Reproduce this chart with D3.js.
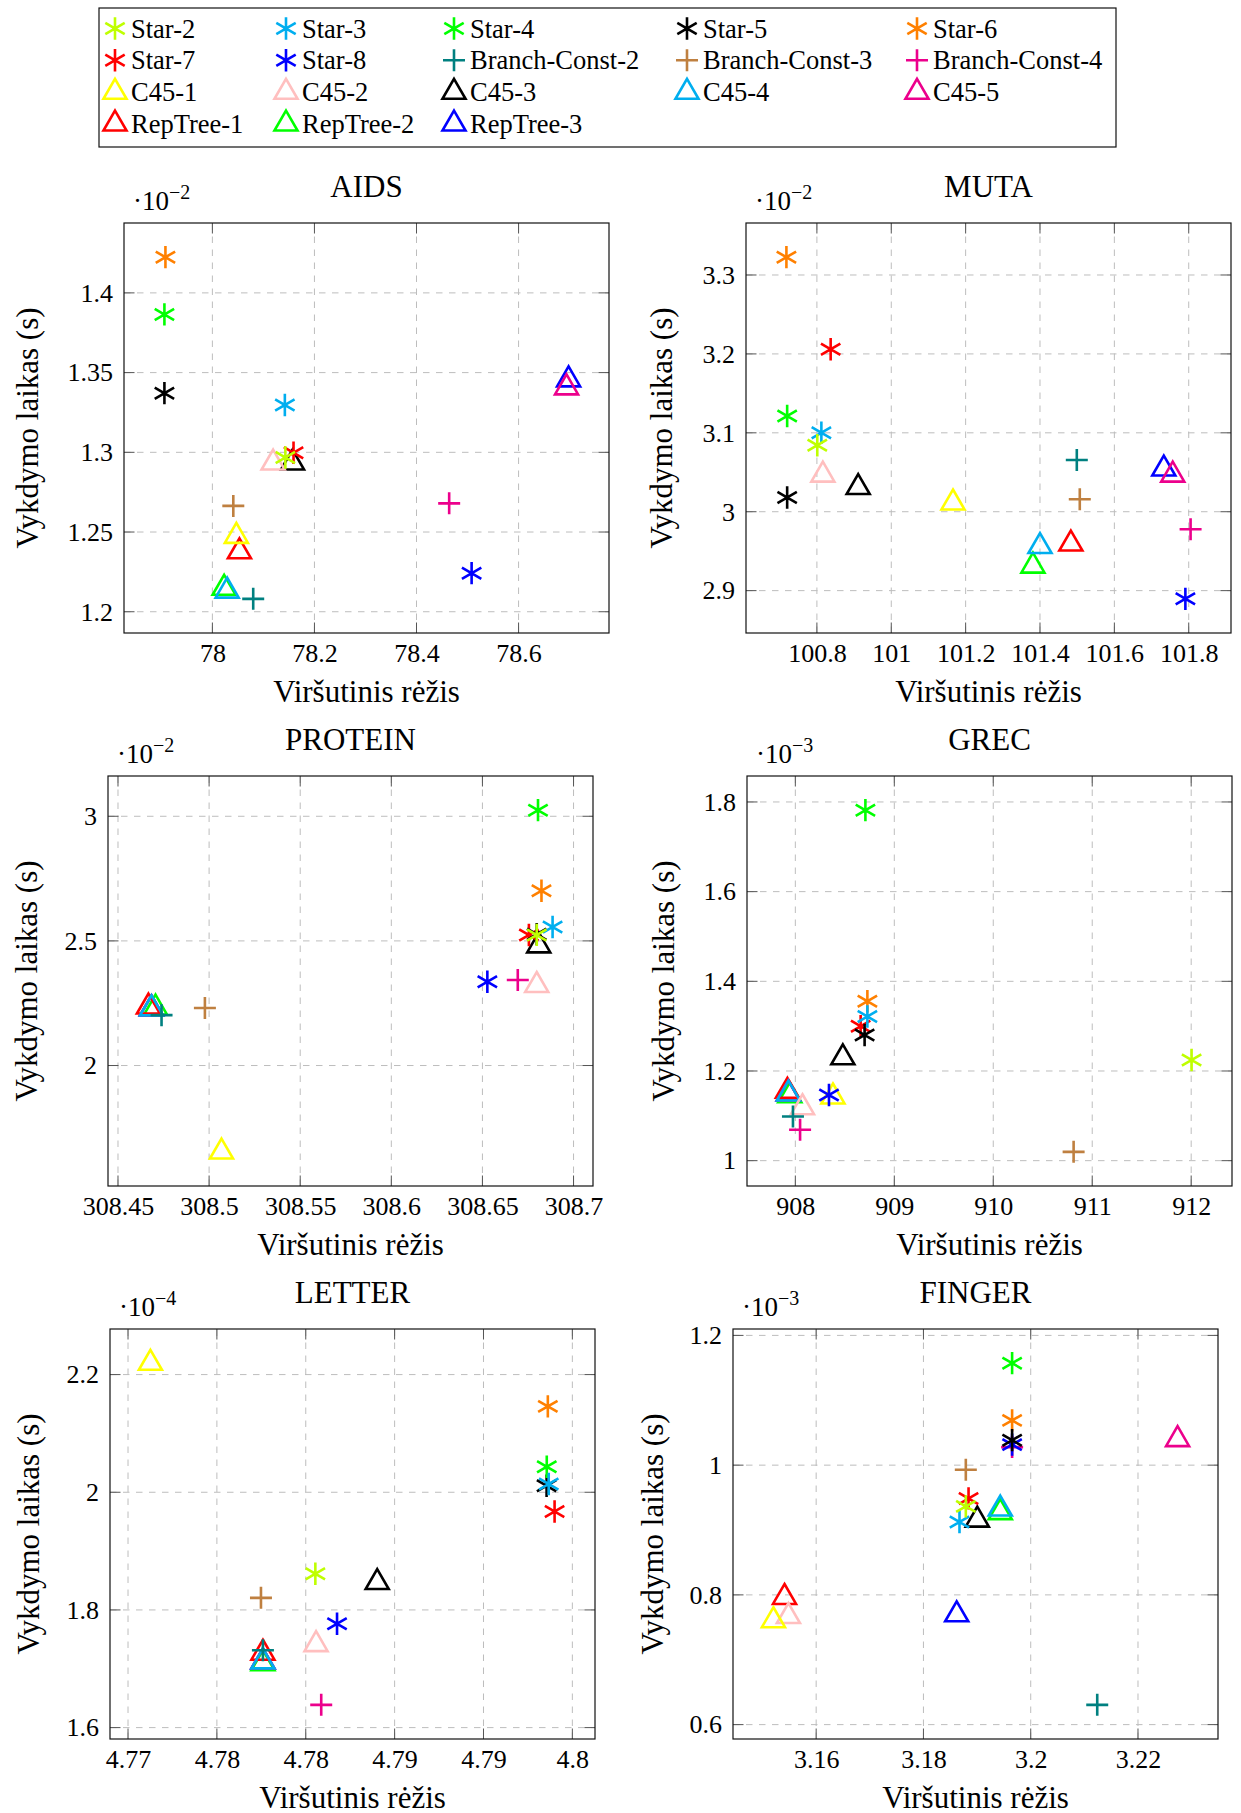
<!DOCTYPE html>
<html>
<head>
<meta charset="utf-8">
<script src="https://cdn.jsdelivr.net/npm/d3@7"></script>
<style>
  body { margin: 0; background: #fff; }
  svg { display: block; font-family: 'Liberation Serif', 'Times New Roman', serif; }
</style>
</head>
<body>
<svg width="1241" height="1813"></svg>
<script>
// series, in legend order
var seriesNames = ['Star-2', 'Star-3', 'Star-4', 'Star-5', 'Star-6', 'Star-7', 'Star-8',
    'Branch-Const-2', 'Branch-Const-3', 'Branch-Const-4',
    'C45-1', 'C45-2', 'C45-3', 'C45-4', 'C45-5',
    'RepTree-1', 'RepTree-2', 'RepTree-3'];
var seriesColors = ['#bfff00', '#00aeef', '#00ff00', '#000000', '#ff8000', '#ff0000', '#0000ff',
    '#008080', '#bf8040', '#ec008c',
    '#ffff00', '#ffbfbf', '#000000', '#00aeef', '#ec008c',
    '#ff0000', '#00ff00', '#0000ff'];
var seriesMarks = ['star', 'star', 'star', 'star', 'star', 'star', 'star',
    'plus', 'plus', 'plus',
    'tri', 'tri', 'tri', 'tri', 'tri',
    'tri', 'tri', 'tri'];

// upper bound (x) and run time (y, in units of 10^exp s) per dataset
var aidsX = [78.143, 78.142, 77.906, 77.906, 77.908, 78.159, 78.508, 78.080, 78.041, 78.464,
    78.047, 78.119, 78.157, 78.029, 78.694, 78.053, 78.023, 78.698];
var aidsY = [1.2967, 1.3297, 1.3865, 1.3371, 1.4224, 1.2997, 1.2242, 1.2081, 1.2664, 1.2680,
    1.2474, 1.2934, 1.2934, 1.2130, 1.3405, 1.2377, 1.2148, 1.3455];

var mutaX = [100.801, 100.812, 100.720, 100.720, 100.718, 100.837, 101.791, 101.499, 101.507, 101.805,
    101.166, 100.816, 100.911, 101.400, 101.757, 101.483, 101.381, 101.733];
var mutaY = [3.0842, 3.1000, 3.1213, 3.0181, 3.3226, 3.2059, 2.8896, 3.0656, 3.0158, 2.9778,
    3.0113, 3.0466, 3.0308, 2.9561, 3.0466, 2.9593, 2.9312, 3.0543];

var proteinX = [308.6798, 308.6885, 308.6805, 308.6798, 308.6824, 308.6755, 308.6527, 308.4739, 308.4977, 308.6694,
    308.5068, 308.6798, 308.6809, 308.4684, 308.4684, 308.4667, 308.4706, 308.4684];
var proteinY = [2.524, 2.5556, 3.0245, 2.527, 2.7013, 2.5238, 2.3362, 2.2020, 2.2309, 2.3434,
    1.6537, 2.3218, 2.4805, 2.228, 2.228, 2.2352, 2.231, 2.228];

var grecX = [912.004, 908.728, 908.708, 908.70, 908.728, 908.66, 908.34, 907.976, 910.812, 908.048,
    908.38, 908.072, 908.48, 907.93, 907.93, 907.92, 907.944, 907.93];
var grecY = [1.2244, 1.3215, 1.7817, 1.2801, 1.3557, 1.30, 1.1463, 1.0986, 1.0197, 1.0691,
    1.1424, 1.1185, 1.2299, 1.149, 1.149, 1.155, 1.145, 1.149];

var letterX = [4.78054, 4.79367, 4.79356, 4.79355, 4.79362, 4.79400, 4.78176, 4.77759, 4.77748, 4.78087,
    4.77126, 4.78058, 4.78402, 4.77759, 4.77759, 4.77759, 4.77759, 4.77759];
var letterY = [1.8616, 2.0141, 2.0434, 2.0111, 2.146, 1.9672, 1.7765, 1.7314, 1.8205, 1.6387,
    2.2194, 1.7413, 1.8469, 1.712, 1.712, 1.7267, 1.709, 1.712];

var fingerX = [3.18790, 3.18672, 3.19653, 3.19653, 3.19653, 3.18841, 3.19653, 3.2124, 3.18790, 3.19653,
    3.15203, 3.15483, 3.19004, 3.19432, 3.22738, 3.1541, 3.19432, 3.1862];
var fingerY = [0.9364, 0.9123, 1.1572, 1.0385, 1.069, 0.9487, 1.0316, 0.6305, 0.9930, 1.0278,
    0.7604, 0.7668, 0.9155, 0.9326, 1.0396, 0.7963, 0.927, 0.7695];

// tick values
var aidsXTicks = [78, 78.2, 78.4, 78.6];
var aidsYTicks = [1.2, 1.25, 1.3, 1.35, 1.4];
var mutaXTicks = [100.8, 101, 101.2, 101.4, 101.6, 101.8];
var mutaYTicks = [2.9, 3, 3.1, 3.2, 3.3];
var proteinXTicks = [308.45, 308.5, 308.55, 308.6, 308.65, 308.7];
var proteinYTicks = [2, 2.5, 3];
var grecXTicks = [908, 909, 910, 911, 912];
var grecYTicks = [1, 1.2, 1.4, 1.6, 1.8];
var letterXTicks = [4.770, 4.775, 4.780, 4.785, 4.790, 4.795];
var letterYTicks = [1.6, 1.8, 2, 2.2];
var fingerXTicks = [3.16, 3.18, 3.2, 3.22];
var fingerYTicks = [0.6, 0.8, 1, 1.2];

var panels = [
    { title: 'AIDS', xs: aidsX, ys: aidsY, xt: aidsXTicks, yt: aidsYTicks, exp: '2', left: 124, top: 223, ylab: 27 },
    { title: 'MUTA', xs: mutaX, ys: mutaY, xt: mutaXTicks, yt: mutaYTicks, exp: '2', left: 746, top: 223, ylab: 661 },
    { title: 'PROTEIN', xs: proteinX, ys: proteinY, xt: proteinXTicks, yt: proteinYTicks, exp: '2', left: 108, top: 776, ylab: 26 },
    { title: 'GREC', xs: grecX, ys: grecY, xt: grecXTicks, yt: grecYTicks, exp: '3', left: 747, top: 776, ylab: 663 },
    { title: 'LETTER', xs: letterX, ys: letterY, xt: letterXTicks, yt: letterYTicks, exp: '4', left: 110, top: 1329, ylab: 28 },
    { title: 'FINGER', xs: fingerX, ys: fingerY, xt: fingerXTicks, yt: fingerYTicks, exp: '3', left: 733, top: 1329, ylab: 652 }
];

var W = 485, H = 410;
var tickFS = 26, labelFS = 31, legendFS = 26.5;
var svg = d3.select('svg');

var markTypes = {
    star: { draw: function (c, r) {
        var t = r / 2, u = r * Math.sqrt(3) / 2;
        c.moveTo(0, -r); c.lineTo(0, r);
        c.moveTo(-u, -t); c.lineTo(u, t);
        c.moveTo(-u, t); c.lineTo(u, -t);
    } },
    plus: { draw: function (c, r) {
        c.moveTo(0, -r); c.lineTo(0, r);
        c.moveTo(-r, 0); c.lineTo(r, 0);
    } },
    tri: { draw: function (c, r) {
        c.moveTo(0, -r);
        c.lineTo(r * Math.sqrt(3) / 2, r / 2);
        c.lineTo(-r * Math.sqrt(3) / 2, r / 2);
        c.closePath();
    } }
};
var markRadius = { star: 11.2, plus: 11, tri: 13.3 };

function markPath(i) {
    var m = seriesMarks[i];
    return d3.symbol().type(markTypes[m]).size(markRadius[m])();
}

function fmt(v) {
    return String(Math.round(v * 100 + 1e-6) / 100);
}

panels.forEach(function (p) {
    var g = svg.append('g').attr('transform', 'translate(' + p.left + ',' + p.top + ')');

    var xe = d3.extent(p.xs), ye = d3.extent(p.ys);
    var xp = (xe[1] - xe[0]) * 0.1, yp = (ye[1] - ye[0]) * 0.1;
    var x = d3.scaleLinear().domain([xe[0] - xp, xe[1] + xp]).range([0, W]);
    var y = d3.scaleLinear().domain([ye[0] - yp, ye[1] + yp]).range([H, 0]);

    // grid
    g.selectAll('.gx').data(p.xt).enter().append('line')
        .attr('x1', function (d) { return x(d); })
        .attr('x2', function (d) { return x(d); })
        .attr('y1', H).attr('y2', 0)
        .attr('stroke', '#bdbdbd').attr('stroke-dasharray', '6.5,6.5');
    g.selectAll('.gy').data(p.yt).enter().append('line')
        .attr('y1', function (d) { return y(d); })
        .attr('y2', function (d) { return y(d); })
        .attr('x1', 0).attr('x2', W)
        .attr('stroke', '#bdbdbd').attr('stroke-dasharray', '6.5,6.5');

    // inward ticks on all sides
    var tl = 10.5;
    p.xt.forEach(function (d) {
        g.append('line').attr('x1', x(d)).attr('x2', x(d)).attr('y1', H).attr('y2', H - tl).attr('stroke', '#555');
        g.append('line').attr('x1', x(d)).attr('x2', x(d)).attr('y1', 0).attr('y2', tl).attr('stroke', '#555');
    });
    p.yt.forEach(function (d) {
        g.append('line').attr('y1', y(d)).attr('y2', y(d)).attr('x1', 0).attr('x2', tl).attr('stroke', '#555');
        g.append('line').attr('y1', y(d)).attr('y2', y(d)).attr('x1', W).attr('x2', W - tl).attr('stroke', '#555');
    });

    // tick labels
    var xa = g.append('g').attr('transform', 'translate(0,' + H + ')')
        .call(d3.axisBottom(x).tickValues(p.xt).tickSize(0).tickPadding(11).tickFormat(fmt));
    var ya = g.append('g')
        .call(d3.axisLeft(y).tickValues(p.yt).tickSize(0).tickPadding(11).tickFormat(fmt));
    [xa, ya].forEach(function (a) {
        a.attr('font-family', null).attr('font-size', tickFS);
        a.select('.domain').remove();
        a.selectAll('text').attr('fill', '#000');
    });

    // marks, last series first
    for (var i = seriesNames.length - 1; i >= 0; i--) {
        if (p.xs[i] == null || p.ys[i] == null) continue;
        g.append('path')
            .attr('d', markPath(i))
            .attr('transform', 'translate(' + x(p.xs[i]) + ',' + y(p.ys[i]) + ')')
            .attr('fill', 'none')
            .attr('stroke', seriesColors[i])
            .attr('stroke-width', 2.6);
    }

    // box
    g.append('rect').attr('width', W).attr('height', H)
        .attr('fill', 'none').attr('stroke', '#111').attr('stroke-width', 1.2);

    // title, multiplier, axis labels
    g.append('text').attr('x', W / 2).attr('y', -26).attr('text-anchor', 'middle')
        .attr('font-size', labelFS).text(p.title);
    var e = g.append('text').attr('x', 9).attr('y', -13).attr('font-size', 27);
    e.append('tspan').text('\u00b710');
    e.append('tspan').attr('dy', -11).attr('font-size', 20).text('\u2212' + p.exp);

    g.append('text').attr('x', W / 2).attr('y', H + 69).attr('text-anchor', 'middle')
        .attr('font-size', labelFS).text('Viršutinis rėžis');
    g.append('text')
        .attr('transform', 'translate(' + (p.ylab - p.left) + ',' + (H / 2) + ') rotate(-90)')
        .attr('text-anchor', 'middle').attr('dy', '0.35em')
        .attr('font-size', labelFS).text('Vykdymo laikas (s)');
});

// legend
var legend = svg.append('g');
legend.append('rect').attr('x', 99).attr('y', 8).attr('width', 1017).attr('height', 139)
    .attr('fill', '#fff').attr('stroke', '#111').attr('stroke-width', 1.2);
var colX = [115, 286, 454, 687, 917];
seriesNames.forEach(function (name, i) {
    var cx = colX[i % 5], cy = 28.5 + Math.floor(i / 5) * 31.8;
    legend.append('path').attr('d', markPath(i))
        .attr('transform', 'translate(' + cx + ',' + cy + ')')
        .attr('fill', 'none').attr('stroke', seriesColors[i]).attr('stroke-width', 2.6);
    legend.append('text').attr('x', cx + 16).attr('y', cy + 9)
        .attr('font-size', legendFS).text(name);
});
</script>
</body>
</html>
